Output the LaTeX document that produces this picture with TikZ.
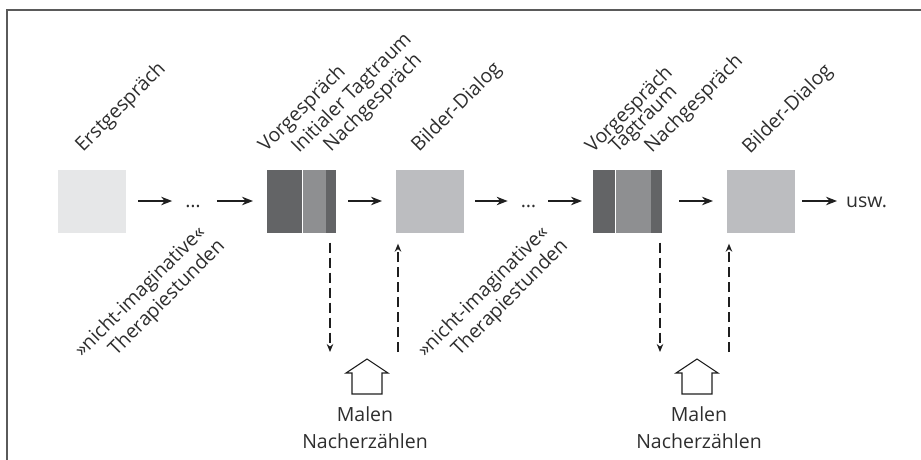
\documentclass[tikz,border=0pt]{standalone}
\usepackage{fontspec}
\setmainfont{Open Sans}
\usetikzlibrary{positioning,arrows.meta}
\definecolor{frameGray}{HTML}{5A5A5A}
\definecolor{textGray}{HTML}{2E2E2E}
\definecolor{boxLight}{HTML}{E6E7E8}
\definecolor{boxDark}{HTML}{636466}
\definecolor{boxMid}{HTML}{8E8F91}
\definecolor{boxPale}{HTML}{BCBDC0}
\tikzset{
  box/.style={inner sep=0pt, minimum height=63pt, anchor=west},
  lbl/.style={rotate=45, anchor=base west, inner sep=0pt},
  flow/.style={-{Stealth[length=11pt,width=8.5pt]}, line width=1.4pt, draw=black!88, shorten <=12pt, shorten >=14pt},
  sideFlow/.style={-{Stealth[length=8pt,width=6.5pt]}, line width=1.2pt, draw=black!88, dash pattern=on 10pt off 5pt},
  house/.style={line width=1.1pt, draw=black!88}
}
\begin{document}
\begin{tikzpicture}[font=\fontsize{19.5}{27}\selectfont, text=textGray]
    \useasboundingbox (0pt,0pt) rectangle (921pt,-460pt);
    \draw[frameGray, line width=1.5pt] (7pt,-460pt) -- (7pt,-10pt) -- (921pt,-10pt);

    \node[box, fill=boxLight, minimum width=68pt] (erst) at (58pt,-201pt) {};
    \node[inner sep=0pt, anchor=base] (dotsA) at (193pt,-207pt) {…};
    \node[box, fill=boxDark, minimum width=35pt] (vorA) at (267pt,-201pt) {};
    \node[box, fill=boxMid, minimum width=23pt, right=0pt of vorA] (tagA) {};
    \node[box, fill=boxDark, minimum width=10pt, right=0pt of tagA] (nachA) {};
    \node[box, fill=boxPale, minimum width=68pt] (dialogA) at (396pt,-201pt) {};
    \node[inner sep=0pt, anchor=base] (dotsB) at (528.5pt,-207pt) {…};
    \node[box, fill=boxDark, minimum width=22pt] (vorB) at (593pt,-201pt) {};
    \node[box, fill=boxMid, minimum width=35pt, right=0pt of vorB] (tagB) {};
    \node[box, fill=boxDark, minimum width=11pt, right=0pt of tagB] (nachB) {};
    \node[box, fill=boxPale, minimum width=68pt] (dialogB) at (727pt,-201pt) {};
    \node[inner sep=0pt, anchor=base west] (usw) at (846pt,-207pt) {usw.};

    \node[lbl] (erstLbl) at (83pt,-153pt) {Erstgespräch};
    \node[lbl] (vorALbl) at (266pt,-153pt) {Vorgespräch};
    \node[lbl] (tagALbl) at (299pt,-154pt) {Initialer Tagtraum};
    \node[lbl] (nachALbl) at (331pt,-153pt) {Nachgespräch};
    \node[lbl] (dialogALbl) at (419pt,-153pt) {Bilder-Dialog};
    \node[lbl] (vorBLbl) at (593pt,-154pt) {Vorgespräch};
    \node[lbl] (tagBLbl) at (617pt,-154pt) {Tagtraum};
    \node[lbl] (nachBLbl) at (652pt,-154pt) {Nachgespräch};
    \node[lbl] (dialogBLbl) at (750pt,-155pt) {Bilder-Dialog};
    \node[lbl] (restA) at (82pt,-358pt) {»nicht-imaginative«};
    \node[lbl] (restAb) at (116pt,-357pt) {Therapiestunden};
    \node[lbl] (restB) at (425pt,-358pt) {»nicht-imaginative«};
    \node[lbl] (restBb) at (459pt,-357pt) {Therapiestunden};

    \draw[flow, shorten >=13pt] (erst.east) -- (erst.east -| dotsA.west);
    \draw[flow, shorten <=16pt] (dotsA.east |- vorA.west) -- (vorA.west);
    \draw[flow] (nachA.east) -- (dialogA.west);
    \draw[flow, shorten <=11pt, shorten >=13pt] (dialogA.east) -- (dialogA.east -| dotsB.west);
    \draw[flow, shorten >=11pt] (dotsB.east |- vorB.west) -- (vorB.west);
    \draw[flow, shorten <=17pt] (nachB.east) -- (dialogB.west);
    \draw[flow, shorten <=7pt, shorten >=9pt] (dialogB.east) -- (dialogB.east -| usw.west);

    \coordinate (downA) at (330pt,-352pt);
    \coordinate (upA) at (398pt,-352pt);
    \coordinate (downB) at (660pt,-352pt);
    \coordinate (upB) at (729pt,-352pt);
    \draw[sideFlow, shorten <=10pt] (nachA.south -| downA) -- (downA);
    \draw[sideFlow, shorten >=11pt] (upA) -- (dialogA.south -| upA);
    \draw[sideFlow, shorten <=10pt] (nachB.south -| downB) -- (downB);
    \draw[sideFlow, shorten >=11pt] (upB) -- (dialogB.south -| upB);

    \coordinate (houseA) at (367pt,-394pt);
    \coordinate (houseB) at (697pt,-394pt);
    \foreach \h in {houseA,houseB}
      \draw[house] ([xshift=-15pt]\h) -- ++(0pt,21pt) -- ++(-6pt,0pt) -- ++(21pt,14pt) -- ++(21pt,-14pt) -- ++(-6pt,0pt) -- ++(0pt,-21pt) -- cycle;
    \node[align=center, anchor=north, inner sep=0pt] (malenA) at (365pt,-406pt) {Malen\\Nacherzählen};
    \node[align=center, anchor=north, inner sep=0pt] (malenB) at (699pt,-406pt) {Malen\\Nacherzählen};
\end{tikzpicture}
\end{document}
